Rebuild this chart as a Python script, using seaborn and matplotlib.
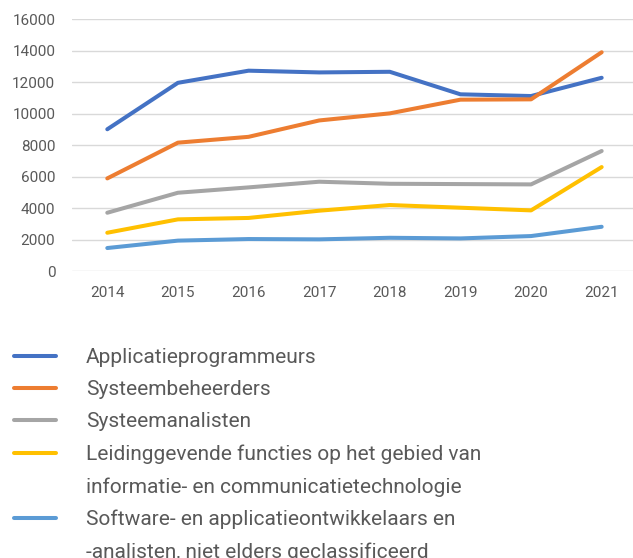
import seaborn as sns
import pandas as pd
import matplotlib.pyplot as plt
from matplotlib.lines import Line2D

years = [2014, 2015, 2016, 2017, 2018, 2019, 2020, 2021]
applicatieprogrammeurs = [9000, 11950, 12720, 12610, 12650, 11220, 11110, 12270]
systeembeheerders = [5880, 8150, 8520, 9560, 10010, 10880, 10900, 13890]
systeemanalisten = [3700, 4970, 5310, 5670, 5540, 5520, 5500, 7620]
leidinggevend = [2430, 3280, 3370, 3830, 4190, 4020, 3850, 6600]
software = [1460, 1930, 2030, 2010, 2110, 2070, 2220, 2810]

names = ["Applicatieprogrammeurs", "Systeembeheerders", "Systeemanalisten",
         "Leidinggevende functies op het gebied van informatie- en communicatietechnologie",
         "Software- en applicatieontwikkelaars en -analisten, niet elders geclassificeerd"]
legend_lines = [["Applicatieprogrammeurs"], ["Systeembeheerders"], ["Systeemanalisten"],
                ["Leidinggevende functies op het gebied van", "informatie- en communicatietechnologie"],
                ["Software- en applicatieontwikkelaars en", "-analisten, niet elders geclassificeerd"]]
colors = ["#4472C4", "#ED7D31", "#A5A5A5", "#FFC000", "#5B9BD5"]

series = [applicatieprogrammeurs, systeembeheerders, systeemanalisten, leidinggevend, software]
rows = []
for n, vals in zip(names, series):
    for y, v in zip(years, vals):
        rows.append({"jaar": y, "aantal": v, "beroep": n})
df = pd.DataFrame(rows)

sns.set_style("white")
plt.rcParams['font.family'] = ['Roboto', 'DejaVu Sans']
txt = "#595959"

fig = plt.figure(figsize=(6.33, 5.58), dpi=100)
ax = fig.add_axes([0.1137, 0.5143, 0.8926, 0.4516])
sns.lineplot(data=df, x="jaar", y="aantal", hue="beroep", palette=colors,
             linewidth=2.9, legend=False, ax=ax)
for l in ax.lines:
    l.set_solid_capstyle("round")
    l.set_solid_joinstyle("round")

ax.set_xlim(2013.5, 2021.5)
ax.set_ylim(0, 16000)
ax.set_xticks(years)
ax.set_yticks(range(0, 16001, 2000))
ax.grid(axis="y", color="#d9d9d9", linewidth=1)
ax.set_axisbelow(True)
for s in ax.spines.values():
    s.set_visible(False)
ax.tick_params(axis="both", length=0, labelsize=11, colors=txt)
ax.tick_params(axis="y", pad=12)
ax.tick_params(axis="x", pad=11)
ax.set_xlabel("")
ax.set_ylabel("")

handles, labels = [], []
for c, lines in zip(colors, legend_lines):
    for i, t in enumerate(lines):
        if i == 0:
            handles.append(Line2D([], [], color=c, linewidth=2.9, solid_capstyle="round"))
        else:
            handles.append(Line2D([], [], color="none"))
        labels.append(t)
leg = fig.legend(handles, labels, loc="upper left", bbox_to_anchor=(14 / 633, 1 - 348 / 558),
                 frameon=False, fontsize=15, handlelength=2.0, handletextpad=1.45,
                 labelspacing=0.63, borderpad=0, borderaxespad=0)
for t in leg.get_texts():
    t.set_color(txt)

fig.savefig("out.png", dpi=100)
